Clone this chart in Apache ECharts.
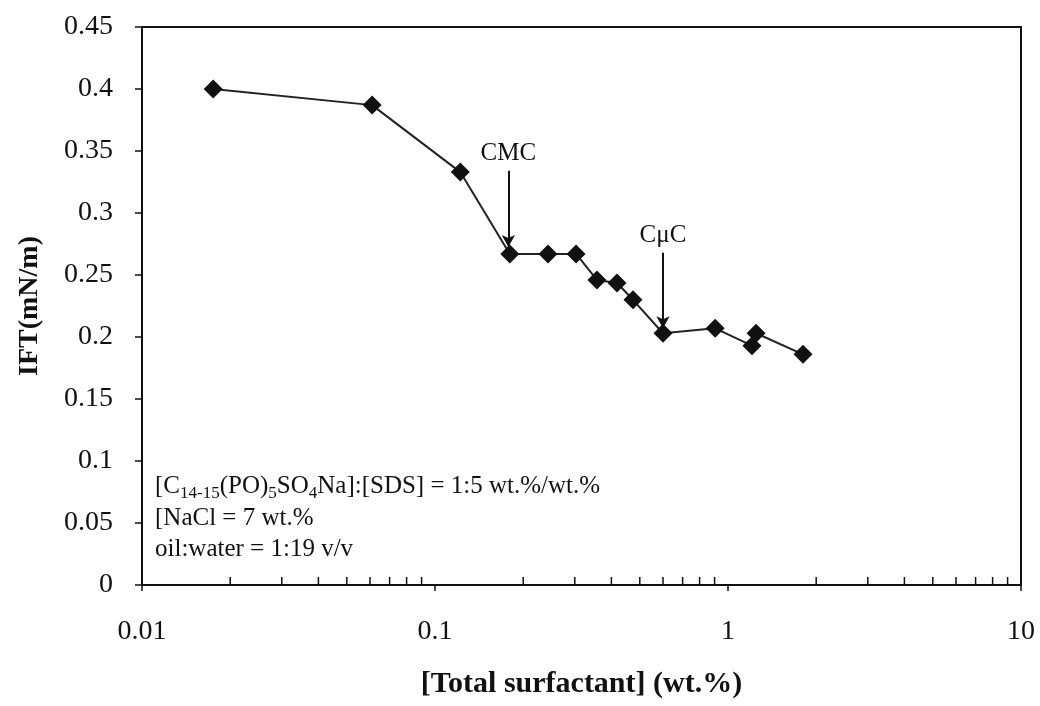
<!DOCTYPE html>
<html>
<head>
<meta charset="utf-8">
<script src="https://cdn.jsdelivr.net/npm/echarts@6/dist/echarts.min.js"></script>
<style>
  html, body { margin: 0; padding: 0; background: #fff; }
  #main { width: 1040px; height: 706px; }
</style>
</head>
<body>
<div id="main"></div>
<script>
// total surfactant (wt.%) and IFT (mN/m)
const surfactant = [0.0175, 0.061, 0.122, 0.180, 0.243, 0.303, 0.357, 0.418, 0.474, 0.600, 0.904, 1.207, 1.247, 1.803];
const ift = [0.400, 0.387, 0.333, 0.267, 0.267, 0.267, 0.246, 0.2435, 0.230, 0.203, 0.207, 0.193, 0.203, 0.186];
// minor ticks on the log axis
const minorTicks = [0.02, 0.03, 0.04, 0.05, 0.06, 0.07, 0.08, 0.09, 0.2, 0.3, 0.4, 0.5, 0.6, 0.7, 0.8, 0.9, 2, 3, 4, 5, 6, 7, 8, 9];
const yTicks = [0, 0.05, 0.1, 0.15, 0.2, 0.25, 0.3, 0.35, 0.4, 0.45];

const serif = '"Liberation Serif", "DejaVu Serif", serif';
const chart = echarts.init(document.getElementById('main'));

const option = {
  backgroundColor: '#fff',
  animation: false,
  grid: {
    left: 142, right: 19, top: 27, bottom: 121,
    show: true, borderColor: '#111', borderWidth: 2
  },
  xAxis: {
    type: 'log',
    logBase: 10,
    min: 0.01,
    max: 10,
    name: '[Total surfactant] (wt.%)',
    nameLocation: 'middle',
    nameGap: 84,
    nameTextStyle: { fontFamily: serif, fontSize: 30, fontWeight: 'bold', color: '#111' },
    axisLine: { lineStyle: { color: '#111', width: 2 } },
    axisTick: { inside: false, length: 6, lineStyle: { color: '#111', width: 1.5 } },
    axisLabel: { fontFamily: serif, fontSize: 28, color: '#111', margin: 33 },
    splitLine: { show: false }
  },
  yAxis: {
    type: 'value',
    min: 0,
    max: yTicks[yTicks.length - 1],
    interval: 0.05,
    name: 'IFT(mN/m)',
    nameLocation: 'middle',
    nameGap: 98,
    nameTextStyle: { fontFamily: serif, fontSize: 28, fontWeight: 'bold', color: '#111' },
    axisLine: { lineStyle: { color: '#111', width: 2 } },
    axisTick: { length: 7, lineStyle: { color: '#111', width: 1.5 } },
    axisLabel: { fontFamily: serif, fontSize: 28, color: '#111', margin: 29 },
    splitLine: { show: false }
  },
  series: [
    {
      type: 'line',
      data: surfactant.map((x, i) => [x, ift[i]]),
      symbol: 'diamond',
      symbolSize: 19,
      itemStyle: { color: '#111' },
      lineStyle: { color: '#222', width: 2 },
      z: 3,
      markLine: {
        silent: true,
        symbol: ['none', 'arrow'],
        symbolSize: [10, 12],
        lineStyle: { color: '#111', width: 2, type: 'solid' },
        label: {
          position: 'start',
          fontFamily: serif,
          fontSize: 25,
          color: '#111',
          distance: 5
        },
        data: [
          [{ coord: [0.178, 0.334], label: { formatter: 'CMC' } }, { coord: [0.178, 0.2725] }],
          [{ coord: [0.60, 0.268], label: { formatter: 'CμC' } }, { coord: [0.60, 0.207] }]
        ]
      }
    },
    {
      type: 'custom',
      silent: true,
      data: minorTicks.map(v => [v, 0]),
      renderItem: function (params, api) {
        const p = api.coord([api.value(0), 0]);
        return {
          type: 'line',
          shape: { x1: p[0], y1: p[1], x2: p[0], y2: p[1] - 8 },
          style: { stroke: '#111', lineWidth: 1.5 }
        };
      },
      z: 1
    }
  ],
  graphic: [
    {
      type: 'text',
      left: 155,
      top: 471,
      style: {
        text: '{n|[C}{s|14-15}{n|(PO)}{s|5}{n|SO}{s|4}{n|Na]:[SDS] = 1:5 wt.%/wt.%}\n{n|[NaCl = 7 wt.%}\n{n|oil:water = 1:19 v/v}',
        lineHeight: 31.5,
        fill: '#111',
        rich: {
          n: { fontFamily: serif, fontSize: 25, lineHeight: 31.5, fill: '#111' },
          s: { fontFamily: serif, fontSize: 17, lineHeight: 31.5, fill: '#111', verticalAlign: 'bottom', padding: [8, 0, 0, 0] }
        }
      }
    }
  ]
};

chart.setOption(option);
</script>
</body>
</html>
